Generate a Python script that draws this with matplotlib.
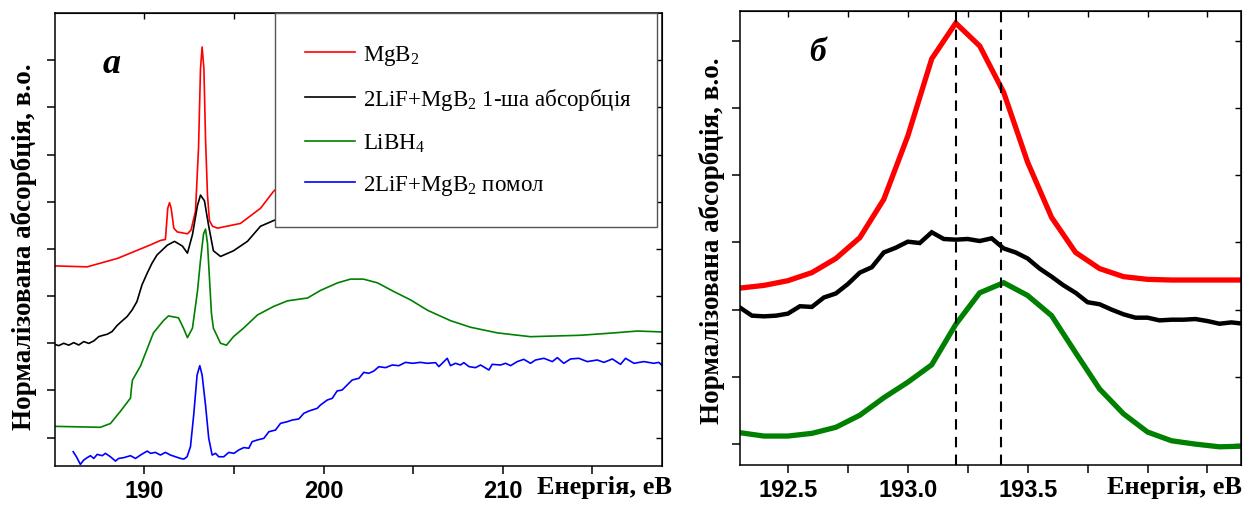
import matplotlib
matplotlib.use("Agg")
import matplotlib.pyplot as plt
import numpy as np
from matplotlib.ticker import MultipleLocator, FixedLocator

plt.rcParams['font.family'] = ['Liberation Sans', 'DejaVu Sans']
plt.rcParams['mathtext.fontset'] = 'custom'
plt.rcParams['mathtext.rm'] = 'Liberation Serif'
plt.rcParams['mathtext.it'] = 'Liberation Serif:italic'

# ---- panel a: full spectra ----
mgb2_e = [185.0, 186.8, 188.5, 190.3, 190.9, 191.17, 191.30, 191.40, 191.49, 191.64,
          191.83, 192.4, 192.6, 192.85, 193.02, 193.13, 193.22, 193.32, 193.41, 193.52,
          193.63, 193.8, 194.08, 195.36, 196.48, 197.21, 198.0]
mgb2_y = [1.82, 1.81, 1.90, 2.04, 2.09, 2.10, 2.43, 2.49, 2.43, 2.22,
          2.18, 2.16, 2.20, 2.40, 3.07, 3.91, 4.14, 3.91, 3.17, 2.57,
          2.30, 2.24, 2.22, 2.27, 2.43, 2.61, 2.75]

first_e = [184.97, 185.21, 185.49, 185.77, 186.05, 186.33, 186.61, 186.89, 187.17, 187.45,
           187.64, 187.92, 188.19, 188.47, 188.75, 189.03, 189.31, 189.58, 189.86, 190.15,
           190.42, 190.70, 191.28, 191.68, 192.12, 192.40, 192.68, 192.96, 193.13, 193.35,
           193.58, 193.85, 194.25, 194.97, 195.75, 196.48, 197.21, 198.0]
first_y = [0.99, 0.975, 1.0, 0.98, 1.007, 0.982, 1.018, 0.999, 1.025, 1.071,
           1.082, 1.096, 1.124, 1.188, 1.237, 1.283, 1.353, 1.442, 1.618, 1.742,
           1.848, 1.936, 2.04, 2.08, 2.03, 1.955, 2.15, 2.46, 2.57, 2.51,
           2.25, 1.98, 1.92, 1.98, 2.08, 2.24, 2.30, 2.36]

libh4_e = [184.97, 187.54, 188.10, 188.66, 189.22, 189.27, 189.33, 189.78, 190.17, 190.50,
           191.06, 191.34, 191.90, 192.18, 192.40, 192.68, 192.96, 193.13, 193.30, 193.41,
           193.52, 193.63, 193.74, 193.85, 194.25, 194.58, 194.97, 195.53, 196.31, 197.21,
           197.99, 199.11, 199.83, 200.78, 201.51, 202.23, 203.02, 203.91, 204.86, 205.81,
           207.09, 208.21, 209.72, 211.56, 214.36, 216.20, 217.54, 218.94]
libh4_y = [0.12, 0.11, 0.15, 0.28, 0.42, 0.52, 0.61, 0.76, 0.95, 1.11,
           1.24, 1.29, 1.27, 1.16, 1.06, 1.16, 1.55, 1.88, 2.16, 2.21,
           2.06, 1.69, 1.32, 1.16, 1.00, 0.98, 1.07, 1.16, 1.30, 1.39,
           1.45, 1.48, 1.56, 1.64, 1.68, 1.68, 1.64, 1.55, 1.46, 1.35,
           1.24, 1.17, 1.11, 1.07, 1.085, 1.11, 1.13, 1.12]

milled_e = [186.02, 186.20, 186.42, 186.61, 186.80, 186.98, 187.17, 187.36, 187.64, 187.82,
            188.10, 188.38, 188.56, 188.84, 189.22, 189.50, 189.78, 190.15, 190.34, 190.61,
            190.89, 191.17, 191.45, 191.73, 192.01, 192.20, 192.38, 192.57, 192.75, 192.94,
            193.09, 193.22, 193.41, 193.59, 193.78, 193.97, 194.15, 194.43, 194.71, 195.00,
            195.27, 195.55, 195.83, 196.01, 196.29, 196.67, 196.95, 197.32, 197.60, 197.97,
            198.25, 198.62, 198.90, 199.18, 199.65, 199.83, 200.21, 200.49, 200.76, 201.04,
            201.32, 201.60, 201.98, 202.25, 202.53, 202.81, 203.09, 203.46, 203.84, 204.21,
            204.58, 204.96, 205.42, 205.80, 206.26, 206.44, 206.63, 206.91, 207.09, 207.37,
            207.65, 207.84, 208.12, 208.49, 208.77, 209.24, 209.42, 209.89, 210.17, 210.45,
            210.82, 211.19, 211.56, 211.84, 212.31, 212.78, 213.06, 213.42, 213.80, 214.26,
            214.73, 215.29, 215.66, 216.13, 216.59, 216.87, 217.34, 217.89, 218.45, 218.73,
            218.92]
milled_y = [-0.149, -0.202, -0.283, -0.237, -0.212, -0.191, -0.22, -0.177, -0.191, -0.166,
            -0.202, -0.248, -0.22, -0.212, -0.191, -0.22, -0.184, -0.142, -0.166, -0.156,
            -0.184, -0.156, -0.184, -0.202, -0.22, -0.227, -0.202, -0.095, 0.24, 0.664,
            0.763, 0.664, 0.346, -0.007, -0.184, -0.166, -0.202, -0.202, -0.156, -0.166,
            -0.13, -0.105, -0.112, -0.043, -0.025, -0.007, 0.063, 0.081, 0.152, 0.169,
            0.187, 0.198, 0.258, 0.282, 0.311, 0.346, 0.399, 0.417, 0.495, 0.505,
            0.558, 0.611, 0.629, 0.692, 0.682, 0.706, 0.752, 0.742, 0.770, 0.763,
            0.798, 0.788, 0.798, 0.788, 0.795, 0.753, 0.788, 0.841, 0.763, 0.788,
            0.770, 0.795, 0.753, 0.742, 0.770, 0.717, 0.777, 0.770, 0.788, 0.763,
            0.806, 0.830, 0.788, 0.823, 0.841, 0.806, 0.848, 0.788, 0.834, 0.841,
            0.806, 0.823, 0.798, 0.834, 0.777, 0.841, 0.788, 0.806, 0.788, 0.798,
            0.763]

# ---- panel б: zoom on the main peak ----
zr_e = [192.3, 192.4, 192.5, 192.6, 192.7, 192.8, 192.9, 193.0, 193.1, 193.2, 193.3,
        193.4, 193.5, 193.6, 193.7, 193.8, 193.9, 194.0, 194.1, 194.2, 194.3, 194.4]
zr_mgb2 = [2.32, 2.36, 2.43, 2.55, 2.76, 3.07, 3.64, 4.58, 5.73, 6.26, 5.92,
           5.23, 4.19, 3.37, 2.85, 2.61, 2.49, 2.45, 2.44, 2.44, 2.44, 2.44]
zr_libh4 = [0.17, 0.12, 0.12, 0.16, 0.25, 0.43, 0.69, 0.92, 1.18, 1.78, 2.25,
            2.40, 2.21, 1.91, 1.36, 0.82, 0.45, 0.18, 0.05, 0.00, -0.04, -0.03]

zb_e = [192.30, 192.35, 192.40, 192.45, 192.50, 192.55, 192.60, 192.65, 192.70, 192.75,
        192.80, 192.85, 192.90, 192.95, 193.00, 193.05, 193.10, 193.15, 193.20, 193.25,
        193.30, 193.35, 193.40, 193.45, 193.50, 193.55, 193.60, 193.65, 193.70, 193.75,
        193.80, 193.85, 193.90, 193.95, 194.00, 194.05, 194.10, 194.15, 194.20, 194.25,
        194.30, 194.35, 194.40]
zb_first = [2.03, 1.91, 1.90, 1.91, 1.94, 2.05, 2.04, 2.18, 2.24, 2.38,
            2.55, 2.63, 2.85, 2.92, 3.01, 2.99, 3.15, 3.05, 3.04, 3.05,
            3.02, 3.06, 2.91, 2.85, 2.76, 2.61, 2.49, 2.36, 2.25, 2.11,
            2.08, 2.00, 1.93, 1.88, 1.88, 1.84, 1.85, 1.85, 1.86, 1.83,
            1.79, 1.81, 1.79]

peak_marks = [193.2, 193.39]

labels = ['MgB$_2$', '2LiF+MgB$_2$ 1-ша абсорбція', 'LiBH$_4$', '2LiF+MgB$_2$ помол']
colors = ['#ff0000', '#000000', '#008000', '#0000ff']

fig = plt.figure(figsize=(12.43, 5.06), dpi=100)
ax1 = fig.add_axes([0.0442, 0.0771, 0.4883, 0.8953])
ax2 = fig.add_axes([0.5953, 0.0791, 0.4031, 0.8972])

for e, y, lab, c in zip([mgb2_e, first_e, libh4_e, milled_e],
                        [mgb2_y, first_y, libh4_y, milled_y], labels, colors):
    ax1.plot(e, y, color=c, lw=1.2, label=lab)

ax1.set_xlim(185.0, 218.9)
ax1.set_ylim(-0.3, 4.5)
ax1.xaxis.set_major_locator(FixedLocator([190, 200, 210]))
ax1.xaxis.set_minor_locator(FixedLocator([195, 205, 215]))
ax1.yaxis.set_major_locator(FixedLocator(np.arange(0, 4.01, 0.5)))

leg = ax1.legend(loc='upper left', bbox_to_anchor=(0.3624, 0.0, 0.6294, 1.0), mode='expand',
                 prop={'family': 'Liberation Serif', 'size': 16.5}, handlelength=2.2,
                 handletextpad=0.35, labelspacing=0.85, borderpad=1.3, borderaxespad=0.0,
                 fancybox=False, framealpha=1.0, edgecolor='#555555')
leg.get_frame().set_linewidth(1.0)

ax2.plot(zr_e, zr_mgb2, color='#ff0000', lw=3.8, solid_joinstyle='miter')
ax2.plot(zb_e, zb_first, color='#000000', lw=3.2, solid_joinstyle='miter')
ax2.plot(zr_e, zr_libh4, color='#008000', lw=3.8, solid_joinstyle='miter')
for xv in peak_marks:
    ax2.axvline(xv, color='black', lw=1.5, ls=(0, (5, 3.5)))

ax2.set_xlim(192.3, 194.39)
ax2.set_ylim(-0.31, 6.44)
ax2.xaxis.set_major_locator(FixedLocator([192.5, 193.0, 193.5, 194.0]))
ax2.xaxis.set_minor_locator(FixedLocator([192.75, 193.25, 193.75, 194.25]))
ax2.yaxis.set_major_locator(MultipleLocator(1))
ax2.set_xticklabels(['192.5', '193.0', '193.5', ''])

for ax in (ax1, ax2):
    for s in ax.spines.values():
        s.set_linewidth(1.1)
    ax.tick_params(which='both', direction='out', width=1.1, length=6, labelsize=17)
    ax.tick_params(axis='y', labelleft=False)
    for t in ax.get_xticklabels():
        t.set_fontweight('bold')
    # inward ticks mirrored on top and right
    top = ax.secondary_xaxis('top')
    top.set_xticks(ax.get_xticks(minor=False))
    top.set_xticks(ax.get_xticks(minor=True), minor=True)
    top.tick_params(which='both', direction='in', length=4, width=1.0, labeltop=False)
    right = ax.secondary_yaxis('right')
    right.set_yticks(ax.get_yticks())
    right.tick_params(direction='in', length=4, width=1.0, labelright=False)

serif_bold = dict(family='Liberation Serif', fontweight='bold')
fig.text(0.432, 0.036, 'Енергія, еВ', fontsize=19, ha='left', va='center', **serif_bold)
fig.text(0.8906, 0.036, 'Енергія, еВ', fontsize=19, ha='left', va='center', **serif_bold)
fig.text(0.019, 0.512, 'Нормалізована абсорбція, в.о.', fontsize=19.5, rotation=90,
         ha='center', va='center', **serif_bold)
fig.text(0.573, 0.524, 'Нормалізована абсорбція, в.о.', fontsize=19.5, rotation=90,
         ha='center', va='center', **serif_bold)
fig.text(0.090, 0.872, 'а', fontsize=26, style='italic', ha='center', va='center', **serif_bold)
fig.text(0.658, 0.897, 'б', fontsize=24, style='italic', ha='center', va='center', **serif_bold)

fig.savefig('out.png', dpi=100)
